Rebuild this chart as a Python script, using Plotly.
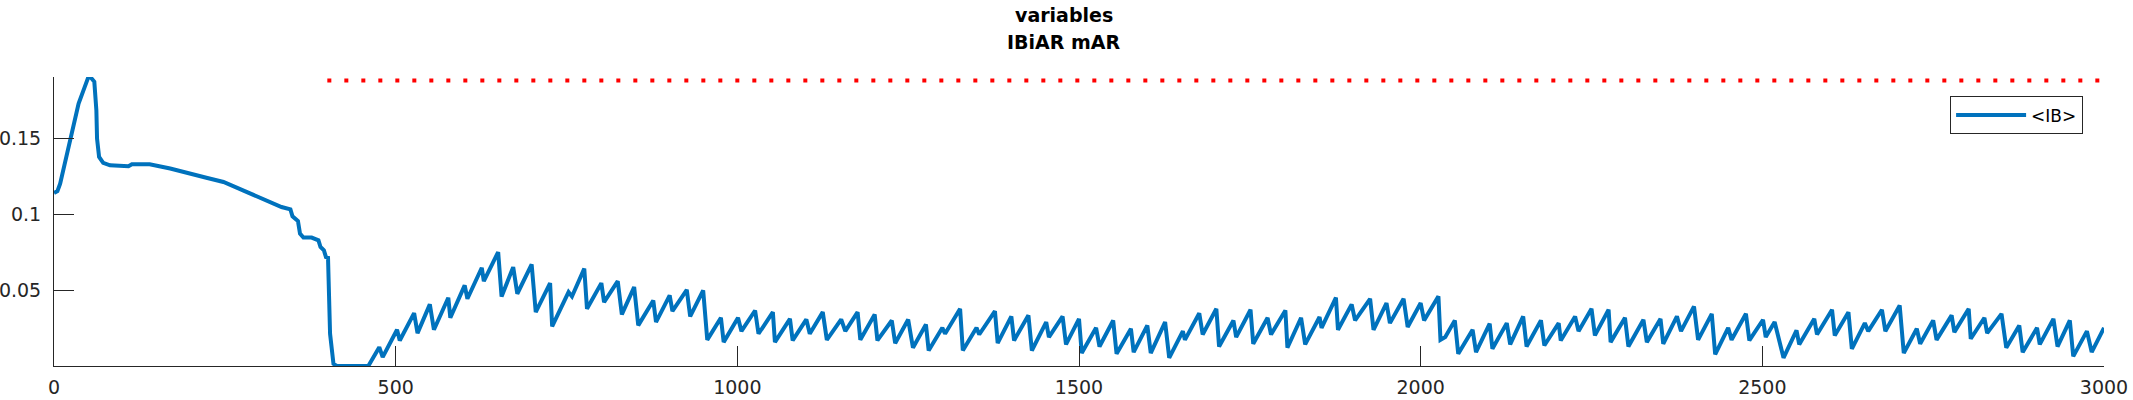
import plotly.graph_objects as go

# time axis and <IB> values (vertices of the trace)
t_vals = [
    0, 5, 9, 18, 26, 36, 45, 50, 54, 59, 62, 63, 66, 72, 82, 109, 114, 140, 170, 189,
    204, 223, 248, 270, 284, 302, 316, 333, 346, 349, 357, 360, 365, 377, 387, 390, 395, 398, 401, 404,
    409, 414, 460,
    476, 481, 502, 506, 527, 532, 550, 556, 577, 580, 601, 605, 626, 629, 650, 655, 672, 678, 699, 705,
    726, 729, 753, 758, 776, 780, 801, 805, 825, 831, 849, 855, 877, 881, 901, 905, 926, 931, 950, 956,
    976, 980, 1001, 1006, 1026, 1031,
    1052, 1055, 1077, 1081, 1101, 1106, 1125, 1131, 1152, 1158, 1176, 1180, 1201, 1205, 1226, 1231,
    1250, 1257, 1276, 1280, 1300, 1304, 1326, 1330, 1350, 1354, 1377, 1381, 1401, 1405, 1426, 1431,
    1452, 1456, 1476, 1481, 1500, 1504, 1525, 1530, 1550, 1555, 1576, 1580, 1600, 1605, 1626, 1632,
    1652, 1655, 1676, 1681,
    1701, 1705, 1726, 1730, 1751, 1755, 1776, 1781, 1802, 1805, 1825, 1831, 1852, 1855, 1876, 1879,
    1899, 1904, 1926, 1931, 1950, 1955, 1975, 1981, 2000, 2005, 2026, 2029, 2036, 2050, 2055, 2076,
    2081, 2101, 2105, 2126, 2131, 2150, 2155, 2176, 2181, 2202, 2205, 2226, 2231, 2250, 2255, 2275,
    2278, 2299, 2304, 2326, 2331,
    2351, 2355, 2375, 2381, 2400, 2406, 2426, 2431, 2450, 2455, 2476, 2481, 2501, 2505, 2518, 2531,
    2550, 2554, 2576, 2580, 2602, 2606, 2626, 2631, 2650, 2655, 2675, 2680, 2701, 2707, 2726, 2731,
    2750, 2755, 2777, 2781, 2802, 2805, 2825, 2829, 2850, 2857, 2876, 2881, 2902, 2906, 2926, 2932,
    2950, 2955, 2975, 2982, 3000,
]
ib_vals = [
    0.1140, 0.1153, 0.1202, 0.1377, 0.1509, 0.1728, 0.1838, 0.1899, 0.1899, 0.1871, 0.1684, 0.1498,
    0.1377, 0.1338, 0.1322, 0.1316, 0.1329, 0.1329, 0.1301, 0.1279, 0.1257, 0.1241, 0.1213, 0.1169,
    0.1147, 0.1110, 0.1081, 0.1048, 0.1033, 0.0987, 0.0956, 0.0873, 0.0847, 0.0847, 0.0829, 0.0785,
    0.0763, 0.0719, 0.0715, 0.0215, 0.0017, 0.0003, 0.0003,
    0.0127, 0.0061, 0.0241, 0.0171, 0.0351, 0.0219, 0.0408, 0.0241, 0.0452, 0.0320, 0.0533, 0.0445,
    0.0649, 0.0561, 0.0752, 0.0460, 0.0653, 0.0478, 0.0671, 0.0357, 0.0548, 0.0263, 0.0489, 0.0460,
    0.0643, 0.0379, 0.0548, 0.0423, 0.0561, 0.0342, 0.0522, 0.0270, 0.0434, 0.0292, 0.0467, 0.0364,
    0.0504, 0.0329, 0.0500, 0.0175, 0.0320, 0.0160, 0.0320, 0.0232, 0.0368, 0.0215,
    0.0357, 0.0160, 0.0313, 0.0171, 0.0309, 0.0215, 0.0357, 0.0175, 0.0309, 0.0232, 0.0357, 0.0175,
    0.0342, 0.0171, 0.0302, 0.0153, 0.0309, 0.0123, 0.0276, 0.0105, 0.0254, 0.0215, 0.0379, 0.0105,
    0.0254, 0.0210, 0.0364, 0.0153, 0.0329, 0.0171, 0.0336, 0.0105, 0.0292, 0.0193, 0.0329, 0.0145,
    0.0313, 0.0088, 0.0254, 0.0131, 0.0302, 0.0083, 0.0248, 0.0094, 0.0270, 0.0088, 0.0292, 0.0057,
    0.0232, 0.0175, 0.0350, 0.0210,
    0.0379, 0.0131, 0.0302, 0.0193, 0.0373, 0.0149, 0.0320, 0.0210, 0.0368, 0.0123, 0.0320, 0.0145,
    0.0325, 0.0254, 0.0452, 0.0241, 0.0408, 0.0303, 0.0445, 0.0241, 0.0417, 0.0285, 0.0445, 0.0259,
    0.0417, 0.0303, 0.0461, 0.0175, 0.0193, 0.0303, 0.0083, 0.0241, 0.0094, 0.0281, 0.0116, 0.0285,
    0.0145, 0.0329, 0.0131, 0.0303, 0.0138, 0.0285, 0.0171, 0.0329, 0.0232, 0.0379, 0.0204, 0.0373,
    0.0160, 0.0320, 0.0131, 0.0307, 0.0160,
    0.0313, 0.0149, 0.0329, 0.0232, 0.0395, 0.0175, 0.0346, 0.0079, 0.0254, 0.0175, 0.0346, 0.0171,
    0.0307, 0.0193, 0.0292, 0.0057, 0.0237, 0.0145, 0.0313, 0.0210, 0.0373, 0.0204, 0.0357, 0.0116,
    0.0285, 0.0232, 0.0373, 0.0232, 0.0401, 0.0088, 0.0248, 0.0149, 0.0303, 0.0175, 0.0336, 0.0226,
    0.0379, 0.0182, 0.0320, 0.0219, 0.0346, 0.0123, 0.0270, 0.0094, 0.0254, 0.0145, 0.0313, 0.0131,
    0.0303, 0.0066, 0.0232, 0.0094, 0.0254,
]

# red dotted reference level
ref_x = [400, 3000]
ref_y = [0.188, 0.188]

x_ticks = [0, 500, 1000, 1500, 2000, 2500, 3000]
y_ticks = [0.05, 0.1, 0.15]
y_labels = ['0.05', '0.1', '0.15']

title_lines = ['variables', 'IBiAR mAR']

FONT = 'DejaVu Sans'
INK = '#262626'

fig = go.Figure()
fig.add_trace(go.Scatter(
    x=t_vals, y=ib_vals, mode='lines', name='&lt;IB&gt;',
    line={'color': '#0072BD', 'width': 4},
))
fig.add_trace(go.Scatter(
    x=ref_x, y=ref_y, mode='lines', showlegend=False,
    line={'color': '#FF0000', 'width': 4, 'dash': '4px,13px'},
))

# two-line bold title above the axes
for text, ypos in zip(title_lines, [1.215, 1.122]):
    fig.add_annotation(
        text='<b>' + text + '</b>', xref='paper', yref='paper',
        x=0.4927, y=ypos, xanchor='center', yanchor='middle',
        showarrow=False, font={'family': FONT, 'size': 19, 'color': 'black'},
    )

fig.update_layout(
    width=2133, height=400,
    margin={'l': 54, 'r': 29, 't': 77, 'b': 34, 'autoexpand': False},
    plot_bgcolor='white', paper_bgcolor='white',
    font={'family': FONT, 'size': 19, 'color': INK},
    showlegend=True,
    legend={
        'x': 0.9898, 'y': 0.933, 'xanchor': 'right', 'yanchor': 'top',
        'bgcolor': 'white', 'bordercolor': INK, 'borderwidth': 1,
        'font': {'family': FONT, 'size': 17, 'color': 'black'},
        'itemwidth': 70,
    },
    xaxis={
        'range': [0, 3000], 'tickvals': x_ticks, 'automargin': False,
        'ticks': 'inside', 'ticklen': 20, 'tickwidth': 1, 'tickcolor': INK,
        'ticklabelstandoff': 4,
        'showline': True, 'linecolor': INK, 'linewidth': 1,
        'showgrid': False, 'zeroline': False,
    },
    yaxis={
        'range': [0.0003, 0.1903], 'tickvals': y_ticks, 'ticktext': y_labels,
        'automargin': False,
        'ticks': 'inside', 'ticklen': 20, 'tickwidth': 1, 'tickcolor': INK,
        'ticklabelstandoff': 8,
        'showline': True, 'linecolor': INK, 'linewidth': 1,
        'showgrid': False, 'zeroline': False,
    },
)

# drop the browser's default body margin so the figure sits at the window's corner
fig.write_html(
    'out.html',
    config={'displayModeBar': False},
    post_script="document.body.style.margin='0';",
)
